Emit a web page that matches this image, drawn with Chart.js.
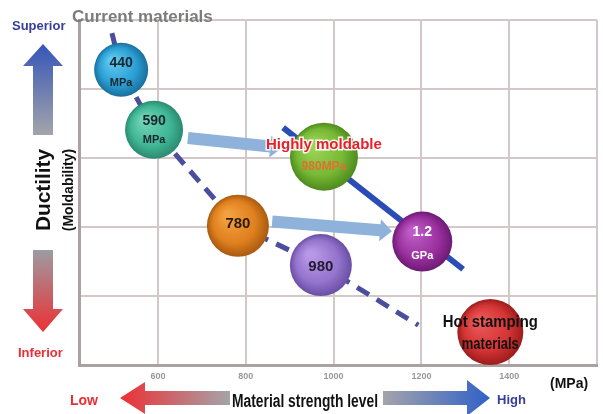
<!DOCTYPE html>
<html>
<head>
<meta charset="utf-8">
<script src="https://cdn.jsdelivr.net/npm/chart.js@4.4.0/dist/chart.umd.min.js"></script>
<style>
html, body { margin: 0; padding: 0; background: #fff; }
#wrap { position: relative; width: 603px; height: 414px; }
</style>
</head>
<body>
<div id="wrap"><canvas id="chart" width="603" height="414"></canvas></div>
<script>
//------------------------------------------------------------
// data
const strengthTicks = [600, 800, 1000, 1200, 1400, 1600];

const materialLabels = [['440', 'MPa'], ['590', 'MPa'], ['780'], ['980'], ['Highly moldable', '980MPa'], ['1.2', 'GPa'], ['Hot stamping', 'materials']];
const materialStrength = [516, 591, 782, 971, 978, 1202, 1357];
const materialDuctility = [4.28, 3.41, 2.02, 1.45, 3.02, 1.79, 0.48];
const materialSize = [27, 29, 31, 31, 34, 30, 33];

// dashed trend through current materials
const currentTrendX = [495, 516, 591, 782, 971, 1193];
const currentTrendY = [4.81, 4.28, 3.41, 2.02, 1.45, 0.58];

// solid trend through highly moldable grades
const moldableTrendX = [885, 1295];
const moldableTrendY = [3.44, 1.39];

// improvement arrows [fromX, fromY, toX, toY]
const improveArrows = [
    [668, 3.29, 883, 3.15],
    [860, 2.08, 1133, 1.94],
];

//------------------------------------------------------------
// colours: [highlight, base, edge]
const sphereColors = [
    ['#5fc8ee', '#2a9fd4', '#1a6f9c'],
    ['#6fd4b4', '#3fb694', '#2a8a70'],
    ['#f3a040', '#e0801e', '#a85a10'],
    ['#b898e6', '#9474cc', '#6a4ea4'],
    ['#9ed456', '#76b834', '#4e8a1e'],
    ['#bc5cc4', '#9a309e', '#6c1a74'],
    ['#ea5858', '#d43434', '#9c1c1c'],
];

const labelStyles = [
    { color: '#1c2630', fonts: [[14, 30], [11, 30]], dy: [-7, 13] },
    { color: '#1c2630', fonts: [[14, 30], [11, 30]], dy: [-9, 10] },
    { color: '#2a1a0a', fonts: [[15, 35]], dy: [-2] },
    { color: '#221a30', fonts: [[15, 31]], dy: [2] },
    { color: '#e8202a', fonts: [[15, 116], [12, 66]], dy: [-12, 10], outline: true, secondColor: '#e07030' },
    { color: '#ffffff', fonts: [[14, 22], [11, 26]], dy: [-9, 14] },
    { color: '#111111', fonts: [[16, 95], [16, 57]], dy: [-9, 13] },
];

//------------------------------------------------------------
const points = (xs, ys) => xs.map((x, i) => ({ x: x, y: ys[i] }));

function sphereFill(context) {
    const chart = context.chart;
    const i = context.dataIndex;
    const sx = chart.scales.x, sy = chart.scales.y;
    if (!sx || !sy || i == null) return sphereColors[0][1];
    const cx = sx.getPixelForValue(materialStrength[i]);
    const cy = sy.getPixelForValue(materialDuctility[i]);
    if (!isFinite(cx) || !isFinite(cy)) return sphereColors[i][1];
    const r = materialSize[i];
    const g = chart.ctx.createRadialGradient(cx - r * 0.35, cy - r * 0.35, r * 0.1, cx, cy, r);
    g.addColorStop(0, sphereColors[i][0]);
    g.addColorStop(0.65, sphereColors[i][1]);
    g.addColorStop(1, sphereColors[i][2]);
    return g;
}

//----------------------------------
const arrowPlugin = {
    id: 'improveArrows',
    afterDatasetDraw(chart, args) {
        if (args.index !== 1) return;
        const ctx = chart.ctx, sx = chart.scales.x, sy = chart.scales.y;
        ctx.save();
        ctx.fillStyle = '#8eb2da';
        improveArrows.forEach(a => {
            const x1 = sx.getPixelForValue(a[0]), y1 = sy.getPixelForValue(a[1]);
            const x2 = sx.getPixelForValue(a[2]), y2 = sy.getPixelForValue(a[3]);
            const ang = Math.atan2(y2 - y1, x2 - x1);
            const len = Math.hypot(x2 - x1, y2 - y1);
            ctx.save();
            ctx.translate(x1, y1);
            ctx.rotate(ang);
            ctx.beginPath();
            ctx.moveTo(0, -6);
            ctx.lineTo(len - 12, -6);
            ctx.lineTo(len - 12, -11);
            ctx.lineTo(len, 0);
            ctx.lineTo(len - 12, 11);
            ctx.lineTo(len - 12, 6);
            ctx.lineTo(0, 6);
            ctx.closePath();
            ctx.fill();
            ctx.restore();
        });
        ctx.restore();
    }
};

//----------------------------------
const bubbleTextPlugin = {
    id: 'bubbleText',
    afterDatasetsDraw(chart) {
        const ctx = chart.ctx;
        const meta = chart.getDatasetMeta(2);
        ctx.save();
        ctx.textAlign = 'center';
        ctx.textBaseline = 'middle';
        meta.data.forEach((el, i) => {
            const st = labelStyles[i];
            materialLabels[i].forEach((line, j) => {
                const f = st.fonts[j];
                ctx.font = 'bold ' + f[0] + 'px "Liberation Sans", Arial, sans-serif';
                const y = el.y + st.dy[j];
                if (st.outline && j === 0) {
                    ctx.lineWidth = 3;
                    ctx.strokeStyle = 'rgba(255,255,255,0.9)';
                    ctx.strokeText(line, el.x, y, f[1]);
                }
                ctx.fillStyle = (j > 0 && st.secondColor) ? st.secondColor : st.color;
                ctx.fillText(line, el.x, y, f[1]);
            });
        });
        ctx.restore();
    }
};

//----------------------------------
function drawArrow(ctx, pts, grad) {
    ctx.beginPath();
    ctx.moveTo(pts[0][0], pts[0][1]);
    pts.slice(1).forEach(p => ctx.lineTo(p[0], p[1]));
    ctx.closePath();
    ctx.fillStyle = grad;
    ctx.fill();
}

const decorPlugin = {
    id: 'decor',
    afterDraw(chart) {
        const ctx = chart.ctx;
        ctx.save();
        const F = s => 'bold ' + s + 'px "Liberation Sans", Arial, sans-serif';

        // vertical arrows
        let g = ctx.createLinearGradient(0, 44, 0, 135);
        g.addColorStop(0, '#3656b8');
        g.addColorStop(1, '#a4a4aa');
        drawArrow(ctx, [[43, 44], [63, 66], [53, 66], [53, 135], [33, 135], [33, 66], [23, 66]], g);
        g = ctx.createLinearGradient(0, 250, 0, 332);
        g.addColorStop(0, '#9c9ca2');
        g.addColorStop(1, '#ec3034');
        drawArrow(ctx, [[33, 250], [53, 250], [53, 309], [63, 309], [43, 332], [23, 309], [33, 309]], g);

        // horizontal arrows
        g = ctx.createLinearGradient(120, 0, 230, 0);
        g.addColorStop(0, '#ec3034');
        g.addColorStop(1, '#a4a4aa');
        drawArrow(ctx, [[120, 398], [145, 382], [145, 391], [230, 391], [230, 405], [145, 405], [145, 414]], g);
        g = ctx.createLinearGradient(383, 0, 490, 0);
        g.addColorStop(0, '#a4a4aa');
        g.addColorStop(1, '#3060c8');
        drawArrow(ctx, [[383, 391], [467, 391], [467, 380], [490, 398], [467, 416], [467, 405], [383, 405]], g);

        ctx.textBaseline = 'alphabetic';
        ctx.textAlign = 'left';
        ctx.fillStyle = '#7c7c7c';
        ctx.font = F(17);
        ctx.fillText('Current materials', 72, 22, 157);

        ctx.fillStyle = '#363e98';
        ctx.font = F(13);
        ctx.fillText('Superior', 12, 30, 60);
        ctx.fillText('High', 497, 404, 33);

        ctx.fillStyle = '#ea2e36';
        ctx.fillText('Inferior', 18, 357, 53);
        ctx.font = F(14);
        ctx.fillText('Low', 70, 405, 30);

        ctx.fillStyle = '#111';
        ctx.font = F(14);
        ctx.fillText('(MPa)', 550, 388, 46);
        ctx.font = F(18);
        ctx.fillText('Material strength level', 232, 407, 146);

        // rotated y titles
        ctx.textAlign = 'center';
        ctx.textBaseline = 'middle';
        ctx.translate(44, 190);
        ctx.rotate(-Math.PI / 2);
        ctx.font = F(21);
        ctx.fillText('Ductility', 0, 0, 82);
        ctx.font = F(14);
        ctx.fillText('(Moldability)', 0, 25, 98);
        ctx.restore();
    }
};

//------------------------------------------------------------
new Chart(document.getElementById('chart'), {
    data: {
        datasets: [
            {
                type: 'line',
                data: points(currentTrendX, currentTrendY),
                borderColor: '#4a4e9c',
                borderWidth: 5,
                borderDash: [14, 9],
                pointRadius: 0,
                order: 3,
            },
            {
                type: 'line',
                data: points(moldableTrendX, moldableTrendY),
                borderColor: '#2a4cb4',
                borderWidth: 6,
                pointRadius: 0,
                order: 2,
            },
            {
                type: 'bubble',
                data: materialStrength.map((x, i) => ({ x: x, y: materialDuctility[i], r: materialSize[i] })),
                backgroundColor: sphereFill,
                borderWidth: 0,
                order: 1,
            },
        ],
    },
    options: {
        responsive: false,
        animation: false,
        devicePixelRatio: 1,
        layout: { autoPadding: false, padding: { left: 79, right: 6, top: 20, bottom: 26 } },
        plugins: { legend: { display: false }, tooltip: { enabled: false } },
        scales: {
            x: {
                type: 'linear',
                min: 420,
                max: 1600,
                afterBuildTicks: scale => { scale.ticks = strengthTicks.map(v => ({ value: v })); },
                ticks: {
                    callback: v => (v === 1600 ? '' : v),
                    color: '#999999',
                    font: { size: 9, weight: 'bold', family: '"Liberation Sans", Arial, sans-serif' },
                    padding: 6,
                    maxRotation: 0,
                },
                grid: { color: '#d2c8c8', lineWidth: 2, drawTicks: false },
                border: { color: '#aaa2a2', width: 3 },
            },
            y: {
                type: 'linear',
                min: 0,
                max: 5,
                ticks: { display: false, stepSize: 1 },
                grid: { color: '#d2c8c8', lineWidth: 2, drawTicks: false },
                border: { color: '#aaa2a2', width: 3 },
            },
        },
    },
    plugins: [arrowPlugin, bubbleTextPlugin, decorPlugin],
});
</script>
</body>
</html>
